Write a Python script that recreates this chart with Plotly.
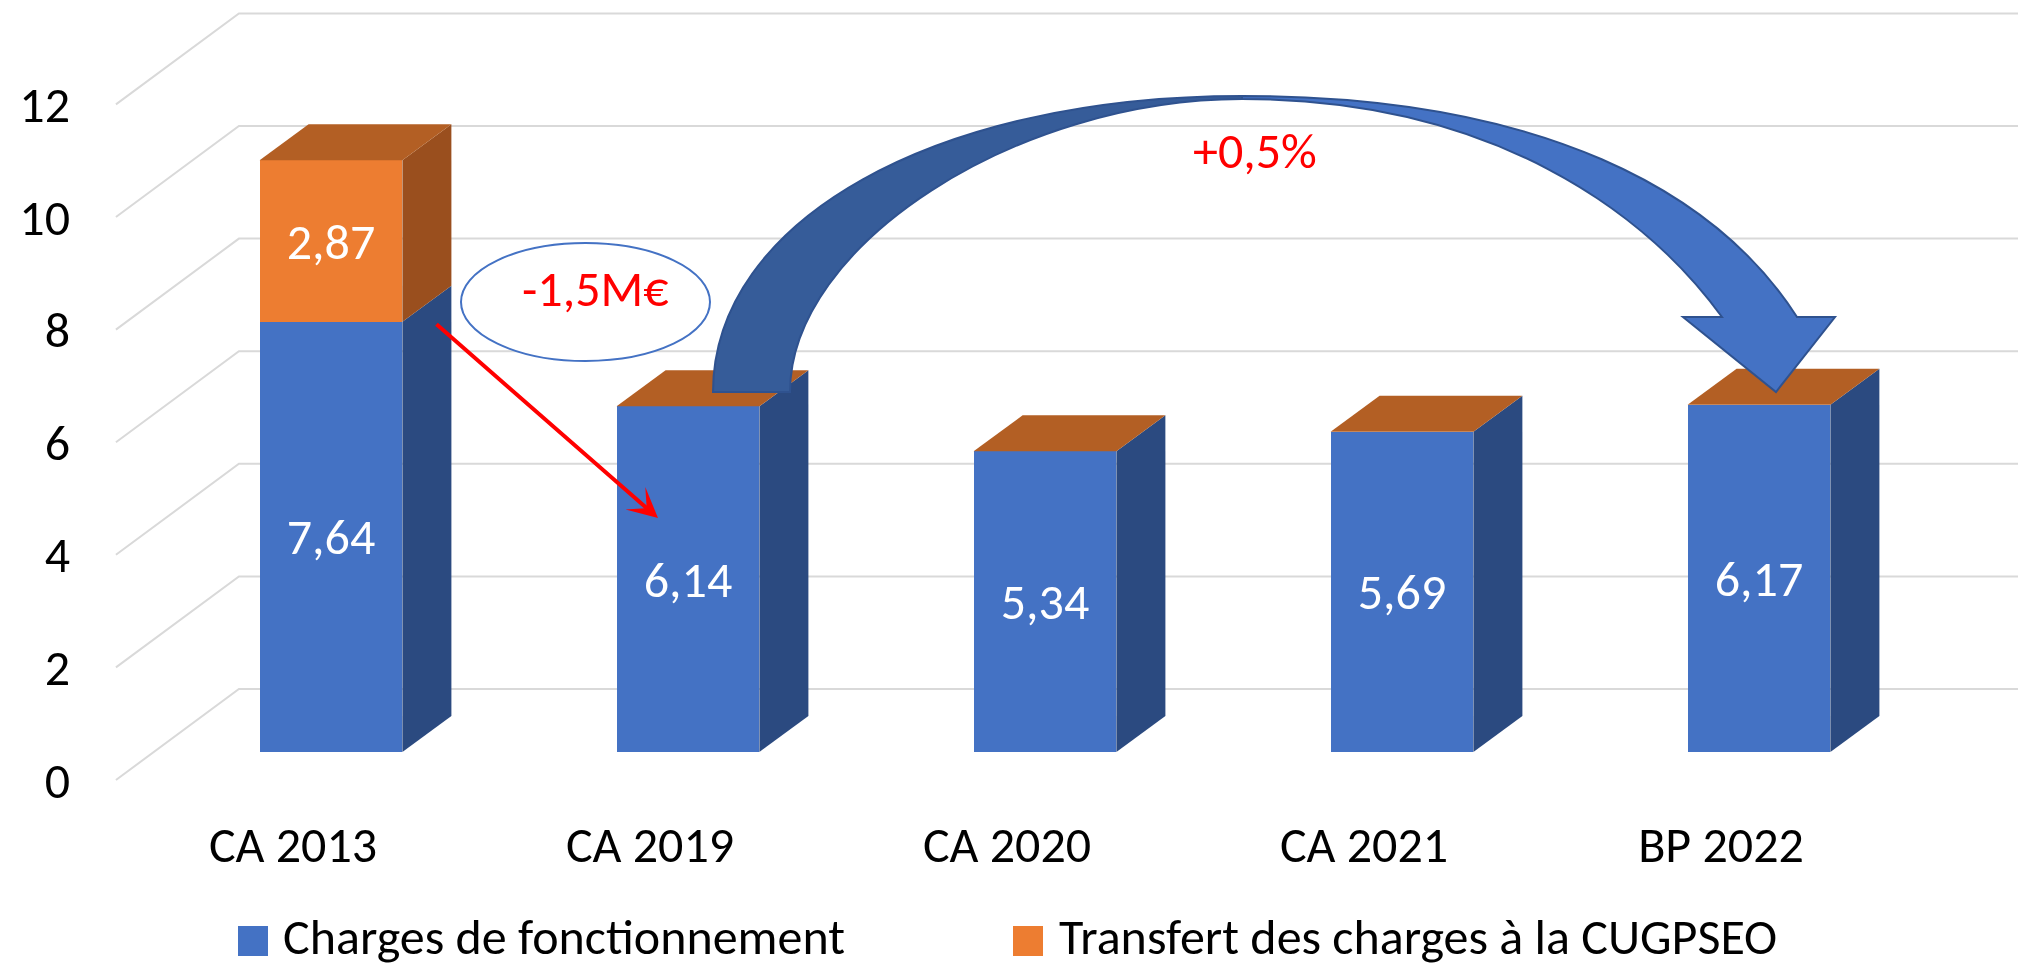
import plotly.graph_objects as go

# ---------------- data ----------------
categories = ["CA 2013", "CA 2019", "CA 2020", "CA 2021", "BP 2022"]
charges = [7.64, 6.14, 5.34, 5.69, 6.17]
transfert = [2.87, 0, 0, 0, 0]
y_ticks = [0, 2, 4, 6, 8, 10, 12]
series_names = ["Charges de fonctionnement", "Transfert des charges à la CUGPSEO"]
note_drop = "-1,5M€"
note_rise = "+0,5%"

# ---------------- layout constants ----------------
W, H = 2018, 966
PLOT_L, PLOT_B = 80, 815            # plot area left / bottom (px)
CAT0_PX, PX_PER_CAT = 331, 357      # screen x of category 0, px per category
VAL0_PX, PX_PER_VAL = 752, 56.3     # screen y of value 0 (bar plane), px per unit
BAR_W = 0.4
DX, DY = 49 / PX_PER_CAT, 36 / PX_PER_VAL          # bar depth offset
FRONT_DX, FRONT_DY = -38 / PX_PER_CAT, -28 / PX_PER_VAL   # floor front offset
BACK_DX, BACK_DY = 85 / PX_PER_CAT, 63 / PX_PER_VAL       # back wall offset
FONT = "Calibri, Carlito, Lato, sans-serif"
FS = 50

BLUE, BLUE_SIDE = "#4472C4", "#2B4A80"
ORANGE, ORANGE_SIDE, TOP = "#ED7D31", "#9A4F1E", "#B35F24"
GRID = "#D9D9D9"

x_range = [(PLOT_L - CAT0_PX) / PX_PER_CAT, (W - CAT0_PX) / PX_PER_CAT]
y_range = [(VAL0_PX - PLOT_B) / PX_PER_VAL, VAL0_PX / PX_PER_VAL]


def P(px, py):
    """screen px -> data coords (for annotation geometry)"""
    return (px - CAT0_PX) / PX_PER_CAT, (VAL0_PX - py) / PX_PER_VAL


def PP(px, py):
    """screen px -> paper coords"""
    return (px - PLOT_L) / (W - PLOT_L), (PLOT_B - py) / PLOT_B


def path(pts, close=True):
    s = "M" + " L".join(f"{x:.5f},{y:.5f}" for x, y in pts)
    return s + (" Z" if close else "")


idx = list(range(len(categories)))
fig = go.Figure()
fig.add_trace(go.Bar(
    x=idx, y=charges, width=BAR_W, name=series_names[0],
    marker=dict(color=BLUE, line=dict(width=0)),
    texttemplate="%{y:.2f}", textposition="inside", insidetextanchor="middle",
    textfont=dict(color="white", size=FS, family=FONT), constraintext="none",
    showlegend=False, hoverinfo="skip"))
fig.add_trace(go.Bar(
    x=idx, y=[v if v > 0 else None for v in transfert], width=BAR_W,
    name=series_names[1],
    marker=dict(color=ORANGE, line=dict(width=0)),
    texttemplate="%{y:.2f}", textposition="inside", insidetextanchor="middle",
    textfont=dict(color="white", size=FS, family=FONT), constraintext="none",
    showlegend=False, hoverinfo="skip"))

shapes = []
# gridlines on the left wall and back wall
x_fl, x_bl = FRONT_DX - 0.496, BACK_DX - 0.496
for v in y_ticks:
    shapes.append(dict(type="path", xref="x", yref="y", layer="below",
                       path=path([(x_fl, v + FRONT_DY), (x_bl, v + BACK_DY),
                                  (x_range[1], v + BACK_DY)], close=False),
                       line=dict(color=GRID, width=2)))

# 3D side and top faces derived from the values
for i in idx:
    xl, xr = i - BAR_W / 2, i + BAR_W / 2
    segs = [(0, charges[i], BLUE_SIDE),
            (charges[i], charges[i] + transfert[i], ORANGE_SIDE)]
    for y0, y1, col in segs:
        if y1 - y0 <= 0:
            continue
        shapes.append(dict(type="path", xref="x", yref="y", layer="above",
                           path=path([(xr, y0), (xr + DX, y0 + DY), (xr + DX, y1 + DY), (xr, y1)]),
                           fillcolor=col, line=dict(width=0)))
    top = charges[i] + transfert[i]
    shapes.append(dict(type="path", xref="x", yref="y", layer="above",
                       path=path([(xl, top), (xl + DX, top + DY), (xr + DX, top + DY), (xr, top)]),
                       fillcolor=TOP, line=dict(width=0)))

# ellipse around the drop note
ex0, ey0 = P(461, 361)
ex1, ey1 = P(710, 243)
shapes.append(dict(type="circle", xref="x", yref="y", layer="above",
                   x0=ex0, x1=ex1, y0=ey0, y1=ey1,
                   fillcolor="white", line=dict(color=BLUE, width=2)))


def cpath(start, curves_and_lines):
    x, y = P(*start)
    s = f"M{x:.5f},{y:.5f}"
    for item in curves_and_lines:
        if item[0] == "C":
            pts = [P(*q) for q in item[1:]]
            s += " C" + " ".join(f"{a:.5f},{b:.5f}" for a, b in pts)
        else:
            a, b = P(*item[1])
            s += f" L{a:.5f},{b:.5f}"
    return s + " Z"


# curved arrow: left (darker) part and right part with head
k_o, k_i = 0.58, 0.5
left_part = cpath((713, 392), [
    ("C", (713, 392 - k_o * 296), (1242 - k_o * 529, 96), (1242, 96)),
    ("L", (1242, 99)),
    ("C", (1242 - k_i * 452, 99), (790, 392 - k_i * 293), (790, 392)),
])
right_part = cpath((1242, 96), [
    ("C", (1542, 96), (1797 - 0.54 * 150, 317 - 0.84 * 150), (1797, 317)),
    ("L", (1835, 317)),
    ("L", (1776, 392)),
    ("L", (1683, 317)),
    ("L", (1722, 317)),
    ("C", (1722 - 0.59 * 130, 317 - 0.81 * 130), (1492, 99), (1242, 99)),
])
shapes.append(dict(type="path", xref="x", yref="y", layer="above", path=left_part,
                   fillcolor="#365C99", line=dict(color="#2F528F", width=2)))
shapes.append(dict(type="path", xref="x", yref="y", layer="above", path=right_part,
                   fillcolor=BLUE, line=dict(color="#2F528F", width=2)))

# manual legend
annotations = []
for (sx0, sx1, tx), col, name in zip([(238, 268, 281), (1013, 1043, 1057)], [BLUE, ORANGE], series_names):
    a0, b0 = PP(sx0, 956)
    a1, b1 = PP(sx1, 926)
    shapes.append(dict(type="rect", xref="paper", yref="paper", x0=a0, x1=a1, y0=b0, y1=b1,
                       fillcolor=col, line=dict(width=0)))
    ax_, ay_ = PP(tx, 936)
    annotations.append(dict(xref="paper", yref="paper", x=ax_, y=ay_, text=name,
                            showarrow=False, xanchor="left", yanchor="middle",
                            font=dict(size=FS, color="black", family=FONT)))

# red arrow and notes
hx, hy = P(658, 518)
tx_, ty_ = P(435, 323)
annotations.append(dict(x=hx, y=hy, ax=tx_, ay=ty_, xref="x", yref="y", axref="x", ayref="y",
                        showarrow=True, arrowhead=3, arrowsize=1.25, arrowwidth=4,
                        arrowcolor="#FF0000", standoff=0, startstandoff=0, text=""))
nx, ny = P(595, 288)
annotations.append(dict(x=nx, y=ny, xref="x", yref="y", text=note_drop, showarrow=False,
                        font=dict(size=FS, color="#FF0000", family=FONT)))
rx, ry = P(1255, 150)
annotations.append(dict(x=rx, y=ry, xref="x", yref="y", text=note_rise, showarrow=False,
                        font=dict(size=FS, color="#FF0000", family=FONT)))

fig.update_layout(
    width=W, height=H, barmode="stack", separators=", ",
    margin=dict(l=PLOT_L, r=0, t=0, b=H - PLOT_B, autoexpand=False),
    paper_bgcolor="white", plot_bgcolor="white",
    font=dict(family=FONT, size=FS, color="black"),
    shapes=shapes, annotations=annotations,
    xaxis=dict(range=x_range, tickvals=[i + FRONT_DX for i in idx], ticktext=categories,
               showgrid=False, zeroline=False, showline=False, ticks="",
               automargin=False, ticklabelstandoff=-4,
               tickfont=dict(size=FS, color="black", family=FONT)),
    yaxis=dict(range=y_range, tickvals=[v + FRONT_DY for v in y_ticks],
               ticktext=[str(v) for v in y_ticks],
               showgrid=False, zeroline=False, showline=False, ticks="",
               automargin=False, ticklabelstandoff=9,
               tickfont=dict(size=FS, color="black", family=FONT)),
)

fig.write_html("out.html", config={"displayModeBar": False},
               post_script="document.body.style.margin='0px';document.body.style.overflow='hidden';")
